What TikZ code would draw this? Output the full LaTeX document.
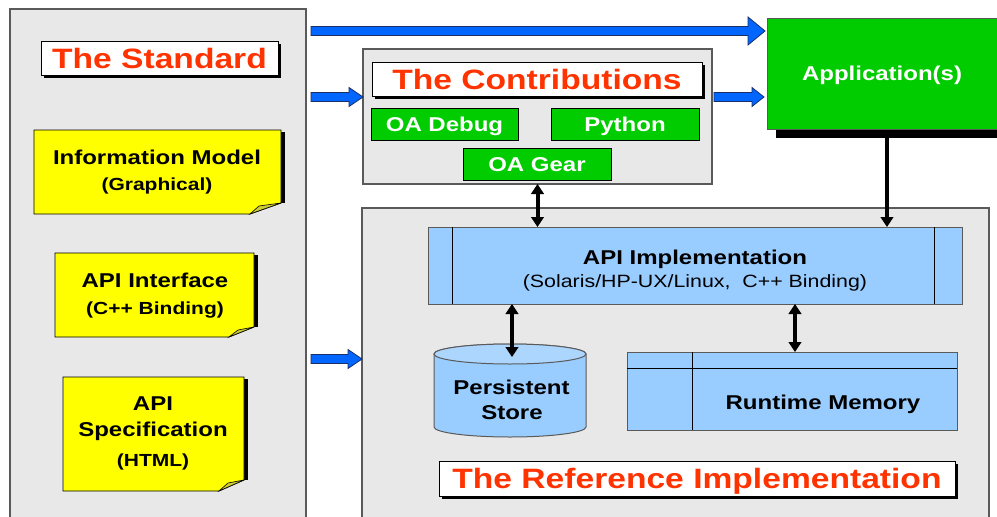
\documentclass[tikz,border=0pt]{standalone}
\usepackage{fontspec}
\setmainfont{Liberation Sans}
\newfontfamily\hsans[FakeStretch=1.2]{Liberation Sans}
\usetikzlibrary{arrows.meta,calc,shadows}

\definecolor{panelgray}{HTML}{E8E8E8}
\definecolor{edgegray}{HTML}{5A5A5A}
\definecolor{titlered}{HTML}{FF3300}
\definecolor{boxgreen}{HTML}{00CC00}
\definecolor{noteyellow}{HTML}{FFFF00}
\definecolor{notefold}{HTML}{CCCC33}
\definecolor{lightblue}{HTML}{99CCFF}
\definecolor{paleblue}{HTML}{ADD6FF}
\definecolor{arrowblue}{HTML}{0066FF}
\definecolor{arrowedge}{HTML}{1A2F66}

\tikzset{
  panel/.style={draw=edgegray, line width=1.2pt, fill=panelgray, inner sep=0pt, outer sep=0pt},
  bigtitle/.style={draw=black, line width=0.8pt, fill=white, inner sep=0pt, outer sep=0pt,
    text=titlered, font=\hsans\bfseries\fontsize{28}{32}\selectfont, text height=20pt, text depth=0pt,
    drop shadow={shadow xshift=2.5pt, shadow yshift=-2.5pt, fill=black, opacity=1}},
  greenbox/.style={draw=black, line width=0.8pt, fill=boxgreen, inner sep=0pt, outer sep=0pt,
    text=white, font=\hsans\bfseries\fontsize{20}{24}\selectfont, text height=14.3pt, text depth=0pt,
    drop shadow={shadow xshift=1.2pt, shadow yshift=-1.2pt, fill=black!70, opacity=1}},
  bluebox/.style={draw=edgegray, line width=1pt, fill=lightblue, inner sep=0pt, outer sep=0pt},
  hidden/.style={inner sep=0pt, outer sep=0pt},
  lbl/.style={inner sep=0pt, font=\hsans\bfseries\fontsize{20}{24}\selectfont, text height=14.3pt, text depth=0pt},
  sublbl/.style={inner sep=0pt, font=\hsans\bfseries\fontsize{17.5}{21}\selectfont, text height=12.5pt, text depth=0pt},
  plainlbl/.style={inner sep=0pt, font=\hsans\fontsize{17.8}{21}\selectfont, text height=12.7pt, text depth=0pt},
  blockarrowstyle/.style={fill=arrowblue, draw=arrowedge, line width=0.8pt, line join=miter},
  onearrow/.style={line width=4pt, -{Triangle[length=10pt,width=12.5pt]}},
  twoarrow/.style={line width=4pt, {Triangle[length=10pt,width=12.5pt]}-{Triangle[length=10pt,width=12.5pt]}},
}

% horizontal block arrow: start, end, head length, head half-width
\newcommand\blockarrow[4]{%
  \filldraw[blockarrowstyle] let \p1=(#1), \p2=(#2) in
    (\x1,\y1+4.5pt) -- (\x2-#3,\y1+4.5pt) -- (\x2-#3,\y1+#4) -- (\x2,\y1)
    -- (\x2-#3,\y1-#4) -- (\x2-#3,\y1-4.5pt) -- (\x1,\y1-4.5pt) -- cycle;}

% sticky note with folded corner: x1,y1,x2,y2, fold x on bottom, fold y on right
\newcommand\stickynote[6]{%
  \fill[black] (#3,#2+2) rectangle (#3+3.5,#6);
  \filldraw[fill=noteyellow, draw=black, line width=0.8pt]
    (#1,#2) -- (#3,#2) -- (#3,#6) -- (#5,#4) -- (#1,#4) -- cycle;
  \filldraw[fill=notefold, draw=black, line width=0.6pt]
    (#5,#4) -- (#5+9,#6+3) -- (#3,#6) -- cycle;}

\begin{document}
\begin{tikzpicture}[x=1pt, y=-1pt]
\useasboundingbox (0,0) rectangle (997,517);
\clip (0,0) rectangle (997,517);
\fill[white] (0,0) rectangle (997,517);

% ---- the three panels ----
\node[panel, minimum width=296pt, minimum height=521pt] (std) at (158,269.5) {};
\node[panel, minimum width=349pt, minimum height=135pt] (contrib) at (537.5,116.5) {};
\node[panel, minimum width=627pt, minimum height=322pt] (ref) at (675.5,369) {};

% ---- The Standard ----
\node[bigtitle, minimum width=237pt, minimum height=34pt] (stdtitle) at (159.5,58) {The Standard};

\stickynote{34}{130}{281}{214}{250}{203}
\node[lbl] (im1) at (157,157) {Information Model};
\node[sublbl] (im2) at (157,184) {(Graphical)};

\stickynote{55}{253}{254}{337}{229}{327}
\node[lbl] (ai1) at (155,280) {API Interface};
\node[sublbl] (ai2) at (155,308) {(C++ Binding)};

\stickynote{63}{377}{244}{491}{219}{480}
\node[lbl] (as1) at (153,403) {API};
\node[lbl] (as2) at (153,429) {Specification};
\node[sublbl] (as3) at (153,460) {(HTML)};

% ---- The Contributions ----
\node[bigtitle, minimum width=330pt, minimum height=34pt] (ctitle) at (537,79) {The Contributions};
\node[greenbox, minimum width=147pt, minimum height=32pt] (oadebug) at (444.5,124) {OA Debug};
\node[greenbox, minimum width=148pt, minimum height=32pt] (python) at (625,124) {Python};
\node[greenbox, minimum width=148pt, minimum height=32pt] (oagear) at (537,164) {OA Gear};

% ---- Application(s) ----
\node[draw=edgegray, line width=0.8pt, fill=boxgreen, inner sep=0pt, outer sep=0pt,
      minimum width=230pt, minimum height=111pt,
      text=white, font=\hsans\bfseries\fontsize{20}{24}\selectfont, text height=14.3pt, text depth=0pt,
      drop shadow={shadow xshift=9pt, shadow yshift=-9pt, fill=black, opacity=1}]
      (app) at (882,73.5) {Application(s)};

% ---- The Reference Implementation ----
\node[bluebox, minimum width=534pt, minimum height=77pt] (api) at (695,265.5) {};
\draw[black, line width=0.8pt] (452,227) -- (452,304) (934,227) -- (934,304);
\node[lbl] (api1) at (695,257) {API Implementation};
\node[plainlbl] (api2) at (695,281) {(Solaris/HP-UX/Linux,\ \ C++ Binding)};

% persistent store cylinder
\node[hidden, minimum width=152pt, minimum height=93pt] (store) at (510,390.5) {};
\filldraw[fill=lightblue, draw=edgegray, line width=1pt]
  (434,354) -- (434,427) arc[start angle=180, end angle=360, x radius=76pt, y radius=10pt]
  -- (586,354) arc[start angle=0, end angle=180, x radius=76pt, y radius=10pt] -- cycle;
\filldraw[fill=paleblue, draw=edgegray, line width=1pt] (510,354) ellipse[x radius=76pt, y radius=10pt];
\coordinate (storetop) at (512,357);
\node[lbl] (ps1) at (511.5,387) {Persistent};
\node[lbl] (ps2) at (512,412) {Store};

% runtime memory table
\node[bluebox, minimum width=330pt, minimum height=78pt] (rt) at (792,391) {};
\draw[black, line width=0.8pt] (627,368) -- (957,368) (692,352) -- (692,430);
\node[lbl] (rt1) at (823,402) {Runtime Memory};

\node[bigtitle, minimum width=516pt, minimum height=35pt] (rtitle) at (697,478.5) {The Reference Implementation};

% ---- blue flow arrows ----
\coordinate (a1) at (311,31);
\coordinate (a2) at (311,97);
\coordinate (a3) at (714,97);
\coordinate (a4) at (311,359);
\blockarrow{a1}{$(app.west |- a1)+(-2,0)$}{17pt}{14pt}
\blockarrow{a2}{contrib.west |- a2}{14pt}{9.5pt}
\blockarrow{a3}{$(app.west |- a3)+(-3,0)$}{12pt}{9.5pt}
\blockarrow{a4}{ref.west |- a4}{14pt}{9.5pt}

% ---- black connectors ----
\coordinate (appfoot) at (887,137);
\coordinate (rtlink) at (795,352);
\draw[onearrow] (appfoot) -- (appfoot |- api.north);
\draw[twoarrow] (contrib.south) -- (contrib.south |- api.north);
\draw[twoarrow] (api.south -| storetop) -- (storetop);
\draw[twoarrow] (api.south -| rtlink) -- (rtlink);
\end{tikzpicture}
\end{document}
